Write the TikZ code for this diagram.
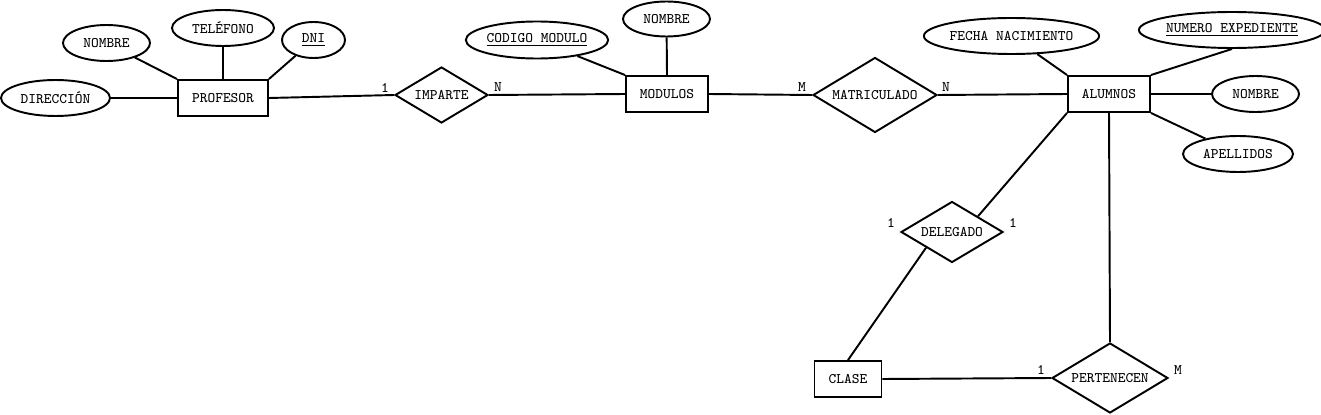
\documentclass[tikz,border=0pt]{standalone}
\usetikzlibrary{shapes.geometric}

\begin{document}
\begin{tikzpicture}[x=0.02cm, y=-0.02cm, line width=1.1pt,
    every node/.style={font=\ttfamily\fontsize{8.3}{9}\selectfont, inner sep=0pt},
    entidad/.style={draw, rectangle, minimum height=0.72cm},
    atributo/.style={draw, ellipse, minimum height=0.72cm},
    relacion/.style={draw, diamond}]
    \useasboundingbox (0,0) rectangle (1321,415);

    % PROFESOR
    \node[entidad, minimum width=1.8cm] (prof) at (223,98) {PROFESOR};
    \node[atributo, minimum width=2.18cm] (prof_dir) at (55.5,98) {DIRECCIÓN};
    \node[atributo, minimum width=1.74cm] (prof_nom) at (106.5,43) {NOMBRE};
    \node[atributo, minimum width=2.04cm] (prof_tel) at (223,28) {TELÉFONO};
    \node[atributo, minimum width=1.26cm] (prof_dni) at (313.5,40) {\underline{DNI}};
    \draw (prof_dir) -- (prof.west);
    \draw (prof_nom) -- (prof.north west);
    \draw (prof_tel) -- (prof.north);
    \draw (prof_dni) -- (prof.north east);

    % IMPARTE
    \node[relacion, aspect=1.66, minimum width=1.86cm, minimum height=1.12cm] (imp) at (441.5,95) {IMPARTE};
    \draw (prof.east) -- (imp.west);
    \node at (385,88) {1};
    \node at (498,87) {N};

    % MODULOS
    \node[entidad, minimum width=1.64cm] (mod) at (667,94) {MODULOS};
    \node[atributo, minimum width=2.8cm, minimum height=0.74cm] (mod_cod) at (537,40) {\underline{CODIGO MODULO}};
    \node[atributo, minimum width=1.74cm, minimum height=0.7cm] (mod_nom) at (666.5,19) {NOMBRE};
    \draw (imp.east) -- (mod.west);
    \draw (mod_cod) -- (mod.north west);
    \draw (mod_nom) -- (mod.north);

    % MATRICULADO
    \node[relacion, aspect=1.65, minimum width=2.48cm, minimum height=1.5cm] (mat) at (875,95) {MATRICULADO};
    \draw (mod.east) -- (mat.west);
    \node at (802,87) {M};
    \node at (946,87) {N};

    % ALUMNOS
    \node[entidad, minimum width=1.64cm] (alu) at (1109,94) {ALUMNOS};
    \node[atributo, minimum width=3.26cm] (alu_fec) at (1011.5,36) {FECHA NACIMIENTO};
    \node[atributo, minimum width=3.44cm] (alu_num) at (1232,30) {\underline{NUMERO EXPEDIENTE}};
    \node[atributo, minimum width=1.74cm] (alu_nom) at (1255.5,94) {NOMBRE};
    \node[atributo, minimum width=2.2cm] (alu_ape) at (1238,154) {APELLIDOS};
    \draw (mat.east) -- (alu.west);
    \draw (alu_fec) -- (alu.north west);
    \draw (alu_num.south) -- (alu.north east);
    \draw (alu.east) -- (alu_nom);
    \draw (alu.south east) -- (alu_ape);

    % DELEGADO
    \node[relacion, aspect=1.67, minimum width=2.04cm, minimum height=1.22cm] (del) at (952,232) {DELEGADO};
    \node at (891,223) {1};
    \node at (1013,223) {1};

    % CLASE
    \node[entidad, minimum width=1.34cm] (cla) at (848,379) {CLASE};
    \draw (alu.south west) -- (del.north east);
    \draw (del.south west) -- (cla.north);

    % PERTENECEN
    \node[relacion, aspect=1.66, minimum width=2.32cm, minimum height=1.4cm] (per) at (1110,378) {PERTENECEN};
    \draw (alu.south) -- (per.north);
    \draw (cla.east) -- (per.west);
    \node at (1041,370) {1};
    \node at (1178,370) {M};
\end{tikzpicture}
\end{document}
